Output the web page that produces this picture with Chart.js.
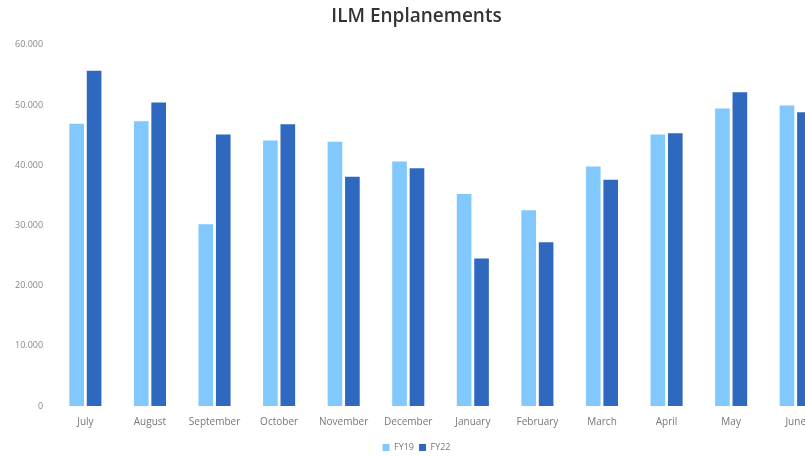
<!DOCTYPE html>
<html>
<head>
<meta charset="utf-8">
<script src="https://cdn.jsdelivr.net/npm/chart.js@4.4.1/dist/chart.umd.min.js"></script>
<style>
  html, body { margin: 0; padding: 0; background: #fff; overflow: hidden; }
  #wrap { width: 805px; height: 456px; overflow: hidden; position: relative; }
  #box { width: 832px; height: 456px; position: absolute; left: 0; top: 0; }
</style>
</head>
<body>
<div id="wrap"><div id="box"><canvas id="c"></canvas></div></div>
<script>
const months = ["July","August","September","October","November","December","January","February","March","April","May","June"];
const fy19 = [46900, 47300, 30200, 44100, 43900, 40600, 35200, 32500, 39800, 45100, 49400, 49900];
const fy22 = [55700, 50400, 45100, 46800, 38100, 39500, 24500, 27200, 37600, 45300, 52100, 48800];
const seriesNames = ["FY19", "FY22"];
const yMax = 60000;
const yStep = 10000;
const titleText = "ILM Enplanements";

new Chart(document.getElementById('c'), {
  type: 'bar',
  data: {
    labels: months,
    datasets: [
      { label: seriesNames[0], data: fy19, backgroundColor: '#80C8FD', categoryPercentage: 0.54, barPercentage: 0.84 },
      { label: seriesNames[1], data: fy22, backgroundColor: '#2F69BF', categoryPercentage: 0.54, barPercentage: 0.84 }
    ]
  },
  options: {
    responsive: true,
    maintainAspectRatio: false,
    animation: false,
    layout: { padding: { left: 5, right: 4, top: 5, bottom: -6 } },
    plugins: {
      title: {
        display: true, text: titleText, color: '#333',
        font: { family: 'Open Sans', size: 19, weight: '600' },
        padding: { top: 0, bottom: 17 }
      },
      legend: {
        position: 'bottom',
        labels: {
          boxWidth: 7, boxHeight: 7, padding: 5, color: '#777',
          font: { family: 'Open Sans', size: 9 }
        }
      },
      tooltip: { enabled: false }
    },
    scales: {
      x: {
        grid: { display: false, drawTicks: false },
        border: { display: false },
        ticks: { color: '#777', font: { family: 'Open Sans', size: 10 }, padding: 10, maxRotation: 0, autoSkip: false }
      },
      y: {
        min: 0, max: yMax,
        grid: { display: false, drawTicks: false },
        border: { display: false },
        ticks: {
          stepSize: yStep, color: '#888', padding: 10,
          font: { family: 'Open Sans', size: 9 },
          callback: v => v === 0 ? '0' : String(v).replace(/\B(?=(\d{3})+(?!\d))/g, '.')
        }
      }
    }
  }
});
</script>
</body>
</html>
